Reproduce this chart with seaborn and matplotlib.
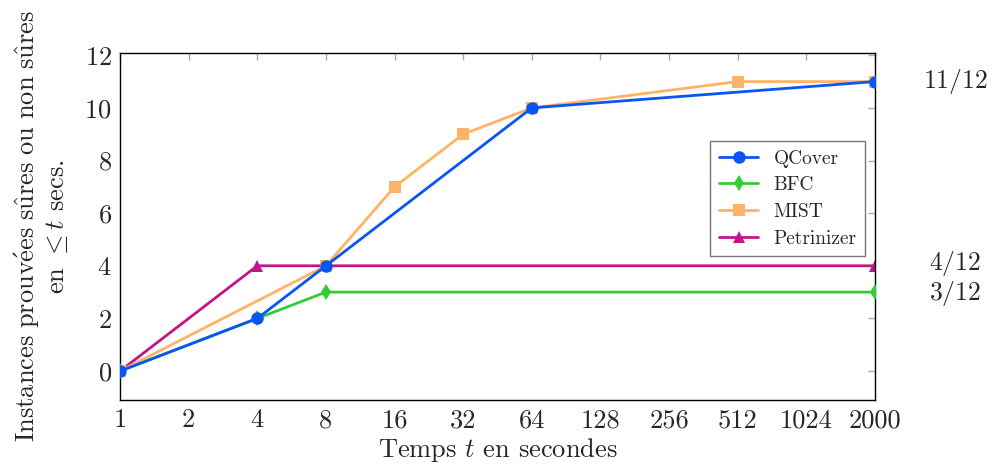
import pandas as pd
import matplotlib
matplotlib.use("Agg")
import matplotlib.pyplot as plt
import seaborn as sns

# x axis: equally spaced categories
tick_labels = ["1", "2", "4", "8", "16", "32", "64", "128", "256", "512", "1024", "2000"]

qcover_t = ["1", "4", "8", "64", "2000"]
qcover_v = [0, 2, 4, 10, 11]
bfc_t = ["1", "4", "8", "2000"]
bfc_v = [0, 2, 3, 3]
mist_t = ["1", "8", "16", "32", "64", "512", "2000"]
mist_v = [0, 4, 7, 9, 10, 11, 11]
petri_t = ["1", "4", "2000"]
petri_v = [0, 4, 4]

end_labels = ["$11/12$", "$4/12$", "$3/12$"]
end_values = [11, 4.1, 2.95]

sns.set_style("white")
plt.rcParams["font.family"] = ["cmr10", "DejaVu Serif"]
plt.rcParams["mathtext.fontset"] = "cm"
plt.rcParams["axes.unicode_minus"] = False
plt.rcParams["axes.formatter.use_mathtext"] = True

fig = plt.figure(figsize=(9.96, 4.72), dpi=100)
ax = fig.add_axes([0.1205, 0.1525, 0.758, 0.736])

series = [
    ("QCover", qcover_t, qcover_v, "#0a55f5", "o", 9, 5),
    ("BFC", bfc_t, bfc_v, "#33cc33", "d", 8, 3),
    ("MIST", mist_t, mist_v, "#ffb366", "s", 8, 4),
    ("Petrinizer", petri_t, petri_v, "#c0168a", "^", 8.5, 2),
]

for name, ts, vs, col, mk, ms, z in series:
    df = pd.DataFrame({"x": [tick_labels.index(t) for t in ts], "y": vs})
    sns.lineplot(data=df, x="x", y="y", ax=ax, color=col, marker=mk,
                 markersize=ms, markeredgewidth=0, linewidth=2,
                 label=name, zorder=z)

ax.set_xlim(0, 11)
ax.set_ylim(-1.1, 12.1)
ax.set_xticks(range(len(tick_labels)))
ax.set_xticklabels(tick_labels)
ax.set_yticks([0, 2, 4, 6, 8, 10, 12])
ax.tick_params(axis="both", direction="in", length=5, width=1, color="#aaaaaa",
               labelsize=19, top=True, right=True, pad=6)
for s in ax.spines.values():
    s.set_color("black")
    s.set_linewidth(1)

ax.set_xlabel("Temps $t$ en secondes", fontsize=19, labelpad=3)
ax.set_ylabel("$\\mathrm{Instances\\ prouv\\'ees\\ s\\^ures\\ ou\\ non\\ s\\^ures}$\n"
              "en $\\leq t$ secs.", fontsize=19, labelpad=10, linespacing=1.1)

for lab, v in zip(end_labels, end_values):
    ax.text(1.106, v, lab, transform=ax.get_yaxis_transform(), ha="center",
            va="center", fontsize=18.5)

leg = ax.legend(loc="center right", bbox_to_anchor=(1.0, 0.58), fontsize=14,
                frameon=True, fancybox=False, edgecolor="#555555",
                handlelength=2.0, borderpad=0.45, labelspacing=0.45,
                handletextpad=0.8)
leg.get_frame().set_linewidth(1)

fig.savefig("out.png", dpi=100)
